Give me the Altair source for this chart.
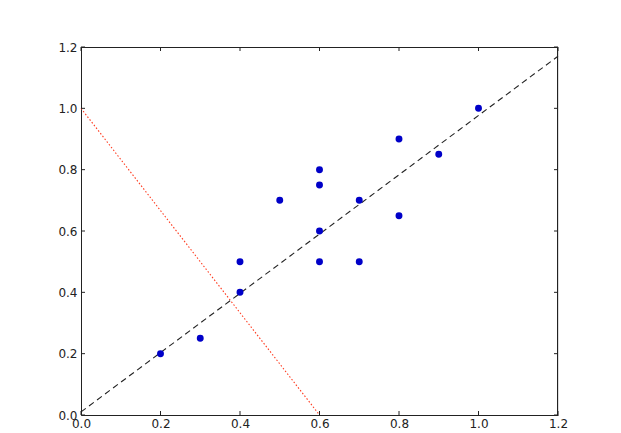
import altair as alt
import pandas as pd

# scatter data
pts_x = [0.2, 0.3, 0.4, 0.4, 0.5, 0.6, 0.6, 0.6, 0.6, 0.7, 0.7, 0.8, 0.8, 0.9, 1.0]
pts_y = [0.2, 0.25, 0.4, 0.5, 0.7, 0.5, 0.6, 0.75, 0.8, 0.5, 0.7, 0.65, 0.9, 0.85, 1.0]

# dashed fit line endpoints
fit_x = [0.0, 1.2]
fit_y = [0.01, 1.17]

# red dotted line endpoints
red_x = [0.0, 0.6]
red_y = [1.0, 0.0]

tick_vals = [0.0, 0.2, 0.4, 0.6, 0.8, 1.0, 1.2]

W, H = 477, 368

pts = pd.DataFrame({"x": pts_x, "y": pts_y})
fit = pd.DataFrame({"x": fit_x, "y": fit_y})
red = pd.DataFrame({"x": red_x, "y": red_y})
ticks = pd.DataFrame({"v": tick_vals})

xs = alt.Scale(domain=[0, 1.2], nice=False, zero=False)
ys = alt.Scale(domain=[0, 1.2], nice=False, zero=False)

xaxis = alt.Axis(values=tick_vals, format=".1f", title=None, grid=False, ticks=False,
                 labelPadding=3, labelFontSize=12, labelFont="DejaVu Sans",
                 labelColor="#222222", domainColor="#222222", labelFlush=False)
yaxis = alt.Axis(values=tick_vals, format=".1f", title=None, grid=False, ticks=False,
                 labelPadding=4, labelFontSize=12, labelFont="DejaVu Sans",
                 labelColor="#222222", domainColor="#222222", labelFlush=False)

red_line = alt.Chart(red).mark_line(color="#ff3b1f", strokeDash=[1.5, 2], strokeWidth=1.1).encode(
    x=alt.X("x:Q", scale=xs, axis=xaxis),
    y=alt.Y("y:Q", scale=ys, axis=yaxis),
)

fit_line = alt.Chart(fit).mark_line(color="#222222", strokeDash=[6, 4], strokeWidth=1.1).encode(
    x=alt.X("x:Q", scale=xs),
    y=alt.Y("y:Q", scale=ys),
)

dots = alt.Chart(pts).mark_point(filled=True, color="#0000c8", size=48, opacity=1).encode(
    x=alt.X("x:Q", scale=xs),
    y=alt.Y("y:Q", scale=ys),
)

tb = alt.Chart(ticks).mark_rule(color="#222222", strokeWidth=1).encode(
    x=alt.X("v:Q", scale=xs), y=alt.value(H), y2=alt.value(H - 4))
tt = alt.Chart(ticks).mark_rule(color="#222222", strokeWidth=1).encode(
    x=alt.X("v:Q", scale=xs), y=alt.value(0), y2=alt.value(4))
tl = alt.Chart(ticks).mark_rule(color="#222222", strokeWidth=1).encode(
    y=alt.Y("v:Q", scale=ys), x=alt.value(0), x2=alt.value(4))
tr = alt.Chart(ticks).mark_rule(color="#222222", strokeWidth=1).encode(
    y=alt.Y("v:Q", scale=ys), x=alt.value(W), x2=alt.value(W - 4))

# crisp top and right frame edges
top_edge = alt.Chart(ticks.head(1)).mark_rule(color="#222222", strokeWidth=1).encode(
    x=alt.value(0), x2=alt.value(W), y=alt.value(0.5))
right_edge = alt.Chart(ticks.head(1)).mark_rule(color="#222222", strokeWidth=1).encode(
    x=alt.value(W - 0.5), y=alt.value(0), y2=alt.value(H + 1))

chart = alt.layer(red_line, fit_line, dots, tb, tt, tl, tr, top_edge, right_edge).properties(
    width=W, height=H,
    autosize=alt.AutoSizeParams(type="none"),
    padding={"left": 73, "top": 39, "right": 55, "bottom": 18},
).configure_view(stroke=None).configure(background="white")

chart.save("out.html", embed_options={"renderer": "svg", "actions": False})
